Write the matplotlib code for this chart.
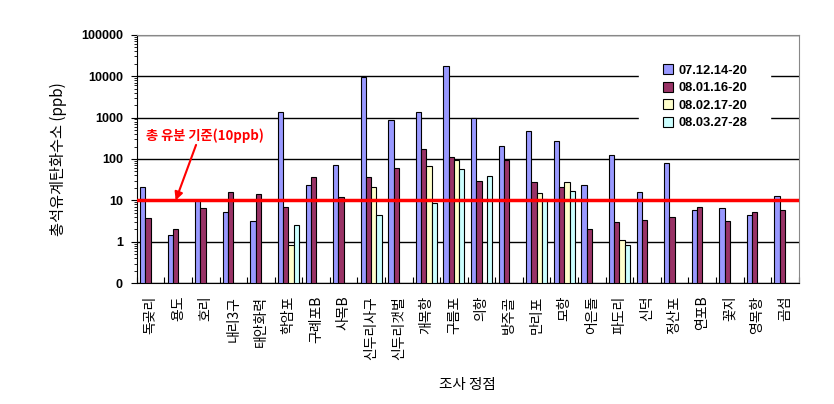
import matplotlib.pyplot as plt
import numpy as np
from matplotlib.ticker import FixedLocator, FixedFormatter, NullFormatter, LogLocator

plt.rcParams['font.family'] = ['Noto Sans CJK KR', 'DejaVu Sans']

stations = ['독곶리', '용도', '호리', '내리3구', '태안화력', '학암포', '구례포B', '사목B',
            '신두리사구', '신두리갯벌', '개목항', '구름포', '의항', '방주골', '만리포', '모항',
            '어은돌', '파도리', '신덕', '정산포', '연포B', '꽃지', '영목항', '곰섬']
nan = np.nan
s1 = [21, 1.5, 10, 5.2, 3.2, 1350, 23, 71, 9400, 870, 1350, 17400, 1000, 204,
      470, 270, 23, 123, 15.8, 79, 5.8, 6.5, 4.4, 12.7]
s2 = [3.7, 2.0, 6.5, 15.8, 14.4, 6.9, 36, 12, 36, 60, 172, 112, 29, 97,
      27.5, 21, 2.0, 3.0, 3.3, 3.95, 6.9, 3.2, 5.2, 5.8]
s3 = [nan, nan, nan, nan, nan, 0.86, nan, nan, 21, nan, 68, 95, nan, nan,
      15, 27.5, nan, 1.1, nan, nan, nan, nan, nan, nan]
s4 = [nan, nan, nan, nan, nan, 2.5, nan, nan, 4.4, nan, 8.7, 57, 39, nan,
      10.7, 16.7, nan, 0.83, nan, nan, nan, nan, nan, nan]
series = [s1, s2, s3, s4]
labels = ['07.12.14-20', '08.01.16-20', '08.02.17-20', '08.03.27-28']
colors = ['#9999FF', '#993366', '#FFFFCC', '#CCFFFF']
limit = 10

fig = plt.figure(figsize=(8.34, 4.04), dpi=100)
ax = fig.add_axes([0.164, 0.2988, 0.7937, 0.6153])

x = np.arange(len(stations))
w = 0.19
bottom = 0.1
for i, (vals, lab, c) in enumerate(zip(series, labels, colors)):
    v = np.array(vals, dtype=float)
    ax.bar(x + (i - 1.5) * w, v - bottom, w, bottom=bottom, color=c,
           edgecolor='black', linewidth=0.8, label=lab, zorder=3)

ax.set_yscale('log')
ax.set_ylim(0.1, 100000)
ax.set_xlim(-0.5, len(stations) - 0.5)
ax.yaxis.set_major_locator(FixedLocator([0.1, 1, 10, 100, 1000, 10000, 100000]))
ax.yaxis.set_major_formatter(FixedFormatter(['0', '1', '10', '100', '1000', '10000', '100000']))
ax.yaxis.set_minor_locator(LogLocator(base=10, subs=np.arange(2, 10)))
ax.yaxis.set_minor_formatter(NullFormatter())
for t in ax.get_yticklabels():
    t.set_family(['Liberation Sans', 'DejaVu Sans'])
    t.set_fontweight('bold')
    t.set_fontsize(9)
ax.tick_params(axis='y', which='major', direction='out', length=4, width=0.8, pad=6)
ax.tick_params(axis='y', which='minor', direction='out', length=2.5, width=0.6)

ax.set_xticks(x)
ax.set_xticklabels(stations, rotation=90, fontsize=10)
ax.set_xticks(np.arange(len(stations) + 1) - 0.5, minor=True)
ax.tick_params(axis='x', which='major', length=0, pad=9)
ax.tick_params(axis='x', which='minor', direction='in', length=4, width=0.8)

ax.grid(axis='y', which='major', color='black', linewidth=1, zorder=1)
ax.set_axisbelow(True)
ax.spines['top'].set_color('#888888')
ax.spines['right'].set_color('#888888')
ax.spines['left'].set_color('black')
ax.spines['bottom'].set_color('black')

ax.axhline(limit, color='red', linewidth=2.5, zorder=4)
ax.text(1.98, 360, '총 유분 기준(10ppb)', color='red', fontsize=9.5, fontweight='bold',
        ha='center', va='center', zorder=5)
ax.annotate('', xy=(0.91, limit), xytext=(1.65, 219),
            arrowprops=dict(arrowstyle='-|>', color='red', lw=1.5, mutation_scale=12,
                            shrinkA=0, shrinkB=0), zorder=5)

ax.set_ylabel('총석유계탄화수소 (ppb)', fontsize=11, labelpad=10)
ax.set_xlabel('조사 정점', fontsize=10.5, labelpad=13)

leg = ax.legend(loc='upper right', bbox_to_anchor=(0.957, 0.975), frameon=True,
                prop={'family': ['Liberation Sans', 'DejaVu Sans'], 'weight': 'bold', 'size': 9.3},
                handlelength=0.8, handleheight=0.8, handletextpad=0.4, labelspacing=0.4,
                borderpad=1.8, borderaxespad=0)
leg.get_frame().set_edgecolor('white')
leg.get_frame().set_facecolor('white')
leg.get_frame().set_alpha(1)
leg.get_frame().set_boxstyle('square', pad=0)
leg.set_zorder(6)

fig.savefig('out.png', dpi=100)
